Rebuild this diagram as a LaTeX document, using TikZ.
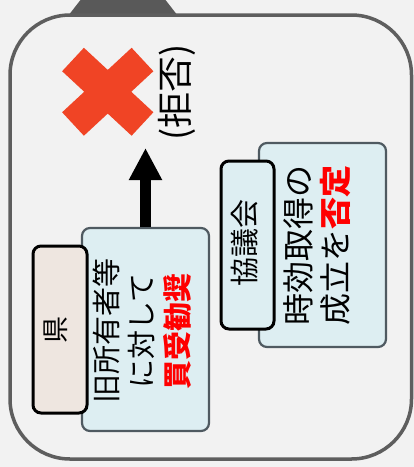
\documentclass[tikz,border=0pt]{standalone}
\usepackage{fontspec}
\newfontfamily\jp{Noto Sans CJK JP}
\usetikzlibrary{arrows.meta}
\definecolor{bg}{HTML}{F2F2F2}
\definecolor{frame}{HTML}{5E5E5E}
\definecolor{tabc}{HTML}{595959}
\definecolor{boxfill}{HTML}{DDEEF2}
\definecolor{boxline}{HTML}{4F5A61}
\definecolor{beige}{HTML}{EEE6E0}
\definecolor{xred}{HTML}{F04425}
\definecolor{txtred}{HTML}{FF0000}
\tikzset{
  bluebox/.style={draw=boxline, line width=2.2pt, fill=boxfill, rounded corners=8pt, inner sep=0pt},
  labelbox/.style={draw=black, line width=3pt, rounded corners=8pt, inner sep=0pt},
  vtext/.style={rotate=90, align=center, inner sep=0pt, font=\jp},
  hl/.style={}
}
\newcommand{\redb}[1]{{\color{txtred}\bfseries #1}}
\begin{document}
\begin{tikzpicture}[x=1pt,y=-1pt]
\fill[bg] (0,0) rectangle (414,467);
\useasboundingbox (0,0) rectangle (414,467);
% tab and frame
\fill[tabc] (68,16) -- (82,-2) -- (164,-2) -- (178,16) -- cycle;
\draw[frame, line width=3.5pt, fill=bg, rounded corners=60pt] (10,15) rectangle (411.5,459);
% red X
\draw[xred, line width=32pt] (73,59.5) -- (142.5,124);
\draw[xred, line width=32pt] (142.5,59.5) -- (73,124);
\node[vtext, font=\jp\fontsize{36}{40}\selectfont] (kyohi) at (176.5,92) {(拒否)};
% boxes
\node[bluebox, minimum width=127pt, minimum height=203pt] (b1) at (145.5,329.5) {};
\node[bluebox, minimum width=127pt, minimum height=204pt] (b2) at (322.5,245) {};
\node[labelbox, fill=beige, minimum width=54pt, minimum height=167pt] (ken) at (60,329.5) {};
\node[labelbox, fill=boxfill, minimum width=53pt, minimum height=168pt] (kyo) at (247.5,245) {};
% texts
\node[vtext, font=\jp\fontsize{27}{30}\selectfont] (tken) at (55.5,330) {県};
\node[vtext, font=\jp\fontsize{29}{30}\selectfont] (tkyo) at (245,242.5) {協議会};
\node[vtext, font=\jp\fontsize{29}{35.5}\selectfont] (t1) at (142,331) {旧所有者等\\に対して\\\redb{買受勧奨}};
\node[vtext, font=\jp\fontsize{32}{37.5}\selectfont] (t2) at (317,245) {時効取得の\\成立を\redb{否定}};
% arrow
\coordinate (tip) at (145.5,148);
\draw[-{Triangle[width=31pt,length=32pt]}, line width=11pt, black] (b1.north) -- (tip);
\end{tikzpicture}
\end{document}
